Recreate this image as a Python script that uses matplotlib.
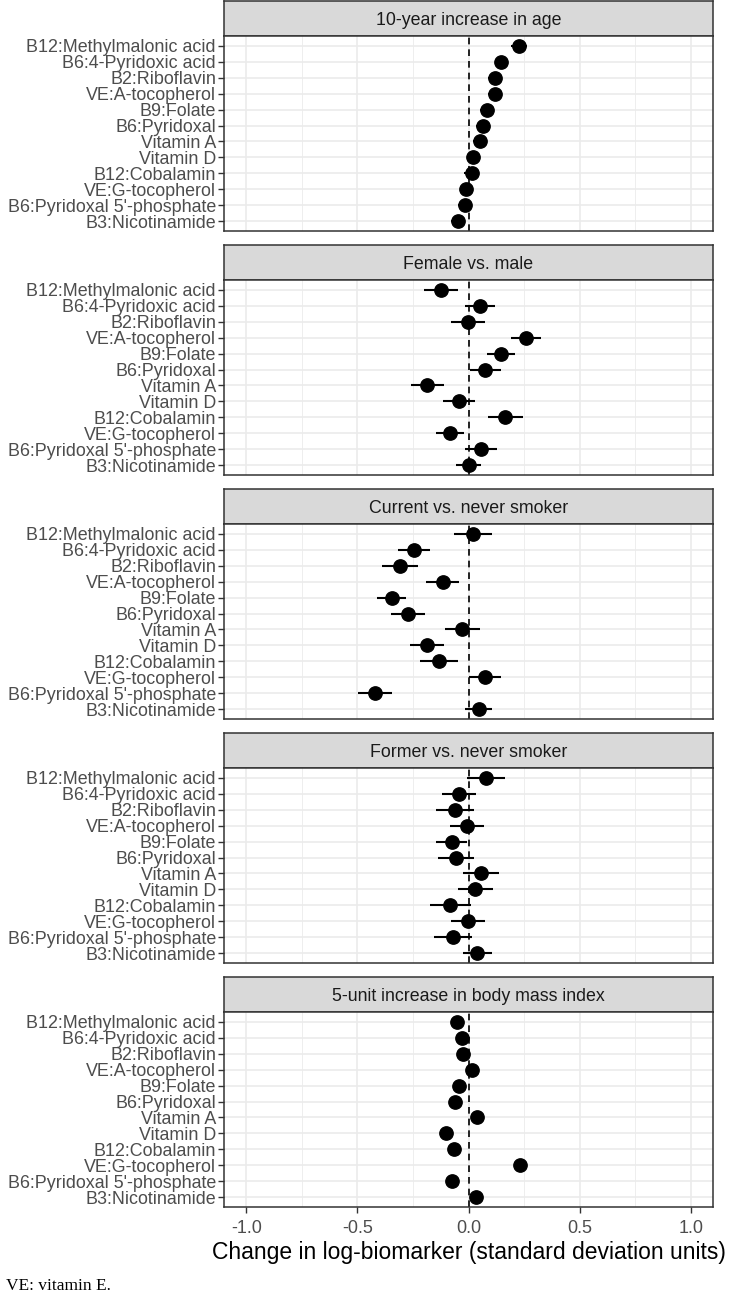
import numpy as np
import matplotlib.pyplot as plt

biomarkers = ['B12:Methylmalonic acid', 'B6:4-Pyridoxic acid', 'B2:Riboflavin',
              'VE:A-tocopherol', 'B9:Folate', 'B6:Pyridoxal', 'Vitamin A', 'Vitamin D',
              'B12:Cobalamin', 'VE:G-tocopherol', "B6:Pyridoxal 5'-phosphate",
              'B3:Nicotinamide']

panels = ['10-year increase in age', 'Female vs. male', 'Current vs. never smoker',
          'Former vs. never smoker', '5-unit increase in body mass index']

age_est = [0.227, 0.148, 0.118, 0.118, 0.082, 0.064, 0.051, 0.022, 0.015, -0.009, -0.016, -0.048]
age_err = [0.034, 0.030, 0.032, 0.030, 0.030, 0.032, 0.030, 0.030, 0.034, 0.028, 0.030, 0.030]

sex_est = [-0.122, 0.052, -0.003, 0.258, 0.146, 0.076, -0.185, -0.043, 0.166, -0.084, 0.058, 0.0]
sex_err = [0.077, 0.067, 0.075, 0.068, 0.062, 0.071, 0.073, 0.071, 0.079, 0.064, 0.072, 0.055]

cur_est = [0.019, -0.243, -0.307, -0.116, -0.346, -0.272, -0.028, -0.185, -0.131, 0.073, -0.419, 0.045]
cur_err = [0.085, 0.072, 0.081, 0.073, 0.067, 0.078, 0.079, 0.077, 0.086, 0.072, 0.077, 0.061]

form_est = [0.079, -0.043, -0.061, -0.007, -0.076, -0.055, 0.055, 0.031, -0.081, -0.003, -0.070, 0.040]
form_err = [0.087, 0.077, 0.084, 0.077, 0.071, 0.081, 0.081, 0.079, 0.090, 0.075, 0.084, 0.064]

bmi_est = [-0.051, -0.027, -0.024, 0.015, -0.043, -0.061, 0.040, -0.099, -0.064, 0.230, -0.072, 0.033]
bmi_err = [0.022, 0.020, 0.022, 0.022, 0.020, 0.022, 0.022, 0.022, 0.022, 0.024, 0.022, 0.022]

estimates = [age_est, sex_est, cur_est, form_est, bmi_est]
errors = [age_err, sex_err, cur_err, form_err, bmi_err]

plt.rcParams['font.family'] = ['Liberation Sans', 'DejaVu Sans']

W, H = 733, 1299
fig = plt.figure(figsize=(W / 100, H / 100), dpi=100)

left, right = 224, 713
strip_h, body_h, pitch, top0 = 35, 195, 244, 1

y = np.arange(len(biomarkers))
for i, name in enumerate(panels):
    st = top0 + pitch * i
    # strip
    sax = fig.add_axes([left / W, 1 - (st + strip_h) / H, (right - left) / W, strip_h / H])
    sax.set_facecolor('#D9D9D9')
    sax.set_xticks([])
    sax.set_yticks([])
    for s in sax.spines.values():
        s.set_color('#333333')
        s.set_linewidth(1.1)
    sax.text(0.5, 0.45, name, ha='center', va='center', fontsize=12.8,
             color='#1A1A1A', transform=sax.transAxes)

    ax = fig.add_axes([left / W, 1 - (st + strip_h + body_h) / H, (right - left) / W, body_h / H])
    ax.set_xlim(-1.1, 1.1)
    ax.set_ylim(len(biomarkers) - 0.4, -0.6)
    ax.set_xticks([-1.0, -0.5, 0.0, 0.5, 1.0])
    ax.set_xticks([-0.75, -0.25, 0.25, 0.75], minor=True)
    ax.set_yticks(y)
    ax.set_yticklabels(biomarkers)
    ax.grid(which='major', color='#EBEBEB', lw=1.2)
    ax.grid(which='minor', axis='x', color='#EBEBEB', lw=0.6)
    ax.set_axisbelow(True)
    ax.tick_params(axis='y', length=4.3, width=1, color='#333333', labelsize=12.9,
                   labelcolor='#4D4D4D', pad=1.5)
    ax.tick_params(axis='x', which='minor', length=0)
    for s in ax.spines.values():
        s.set_color('#333333')
        s.set_linewidth(1.1)
    ax.axvline(0, color='black', ls=(0, (4, 3)), lw=1.2, zorder=2)
    ax.errorbar(estimates[i], y, xerr=errors[i], fmt='o', color='black',
                ms=9.6, elinewidth=1.5, capsize=0, zorder=3)
    if i < len(panels) - 1:
        ax.tick_params(axis='x', which='major', length=0, labelbottom=False)
    else:
        ax.set_xticklabels(['-1.0', '-0.5', '0.0', '0.5', '1.0'])
        ax.tick_params(axis='x', which='major', length=4.3, width=1, color='#333333',
                       labelsize=13, labelcolor='#4D4D4D', pad=5)
        ax.set_xlabel('Change in log-biomarker (standard deviation units)',
                      fontsize=16.5, color='black', labelpad=3)

fig.text(6 / W, 1 - 1286 / H, 'VE: vitamin E.', family='Liberation Serif',
         fontsize=12.5, color='black', va='center', ha='left')

fig.savefig('out.png', dpi=100)
